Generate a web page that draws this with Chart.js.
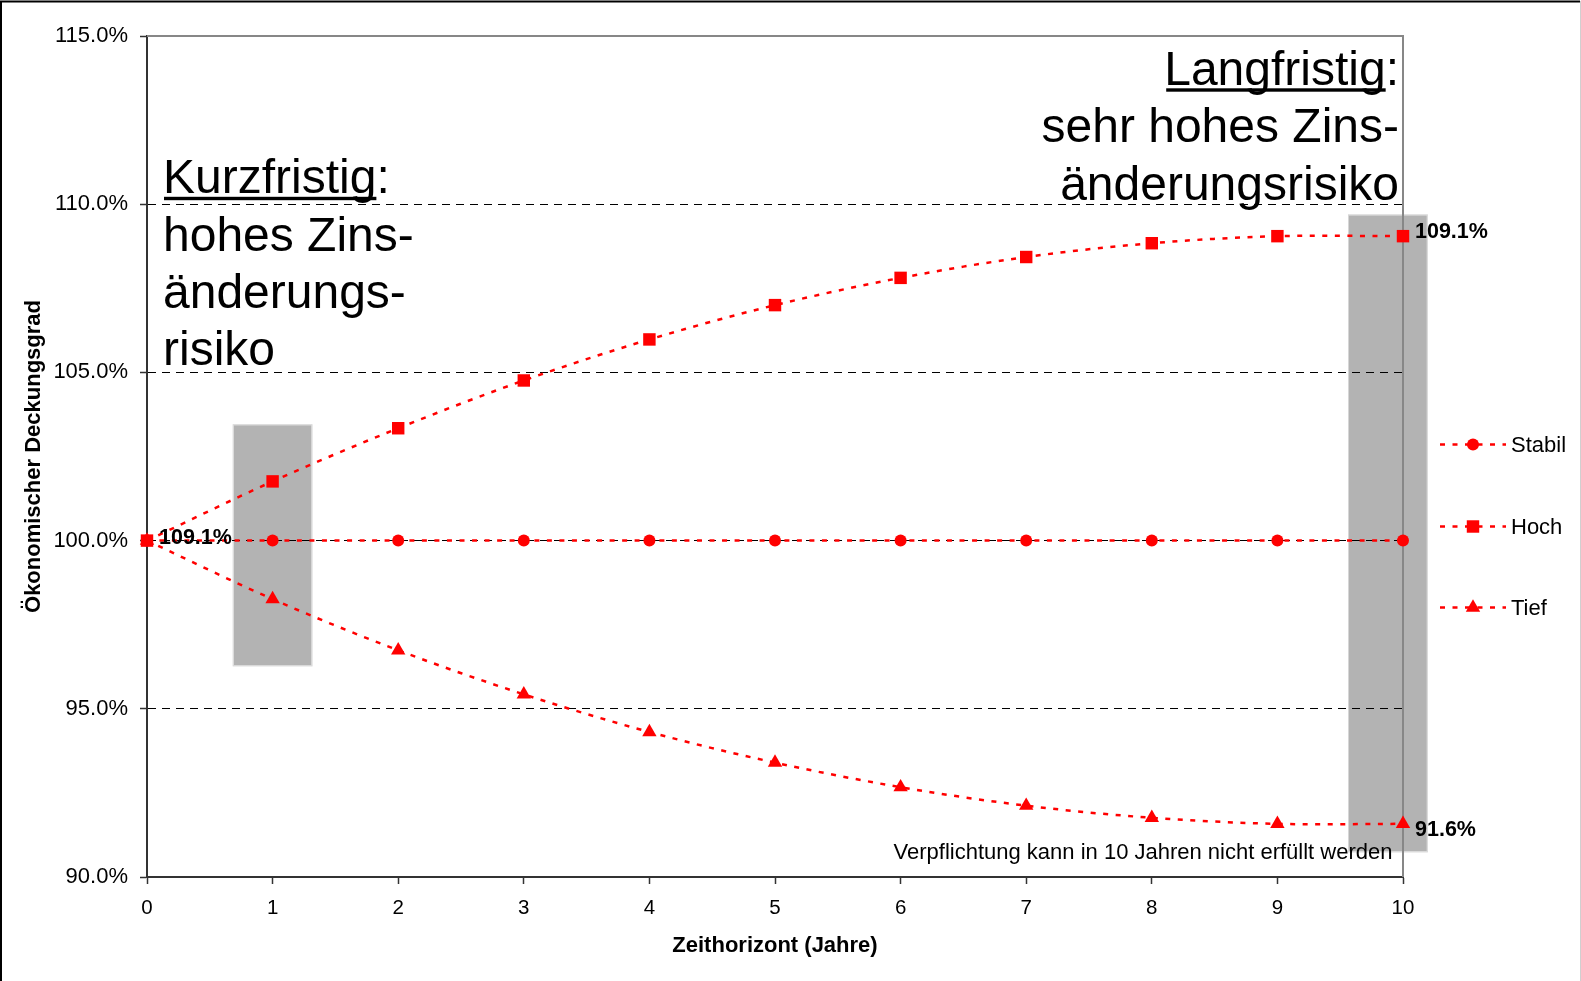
<!DOCTYPE html>
<html><head><meta charset="utf-8">
<script src="https://cdn.jsdelivr.net/npm/chart.js@4.4.1/dist/chart.umd.min.js"></script>
<style>html,body{margin:0;padding:0;background:#fff;overflow:hidden}#wrap{position:relative;width:1581px;height:981px}canvas{display:block}</style>
</head><body><div id="wrap"><canvas id="c" width="1581" height="981"></canvas></div>
<script>
// ---- data ----
const categories = ['0','1','2','3','4','5','6','7','8','9','10'];
const seriesNames = ['Stabil','Hoch','Tief'];
const stabil = [100,100,100,100,100,100,100,100,100,100,100];
const hoch   = [100,101.76,103.34,104.76,105.98,107.00,107.81,108.43,108.84,109.05,109.05];
const tief   = [100,98.26,96.74,95.43,94.31,93.40,92.67,92.12,91.76,91.58,91.58];
const yTicks = [90,95,100,105,110,115];
const valueLabels = ['109.1%','109.1%','91.6%'];
const valueLabelX = [0,10,10];
const valueLabelY = [100,109.05,91.58];
const boxX0 = [0.69, 9.57];
const boxX1 = [1.31, 10.19];
const boxYTop = [103.43, 109.67];
const boxYBottom = [96.29, 90.76];
const noteShort = ['Kurzfristig:', 'hohes Zins-', 'änderungs-', 'risiko'];
const noteLong = ['Langfristig:', 'sehr hohes Zins-', 'änderungsrisiko'];
const noteBottom = 'Verpflichtung kann in 10 Jahren nicht erfüllt werden';
const xTitle = 'Zeithorizont (Jahre)';
const yTitle = 'Ökonomischer Deckungsgrad';

// ---- styling ----
const FONT = "'Liberation Sans', Arial, Helvetica, sans-serif";
Chart.defaults.font.family = FONT;
Chart.defaults.color = '#000';
const RED = '#ff0000';
const LINE_DASH = [5, 7.5];
const pointStyles = ['circle','rect','triangle'];
const pointRadii = [6, 8.8, 8.3];
const seriesData = [stabil, hoch, tief];
const orders = [3, 1, 2];

const datasets = seriesNames.map((name, i) => ({
  label: name,
  data: seriesData[i],
  borderColor: RED, backgroundColor: RED,
  pointBackgroundColor: RED, pointBorderColor: RED, pointBorderWidth: 0,
  pointStyle: pointStyles[i], pointRadius: pointRadii[i], pointHoverRadius: pointRadii[i],
  borderWidth: 2.5, borderDash: LINE_DASH, tension: 0.33, fill: false, clip: false,
  order: orders[i]
}));

const decor = {
  id: 'decor',
  beforeDraw(chart) {
    const {ctx, scales: {x, y}} = chart;
    ctx.save();
    for (let i = 0; i < boxX0.length; i++) {
      const l = x.getPixelForValue(boxX0[i]), r = x.getPixelForValue(boxX1[i]);
      const t = y.getPixelForValue(boxYTop[i]), b = y.getPixelForValue(boxYBottom[i]);
      ctx.fillStyle = '#b3b3b3';
      ctx.fillRect(l, t, r - l, b - t);
      ctx.strokeStyle = '#d6d6d6'; ctx.lineWidth = 1;
      ctx.strokeRect(l - 0.5, t - 0.5, r - l + 1, b - t + 1);
    }
    ctx.restore();
  },
  beforeDatasetsDraw(chart) {
    const {ctx, chartArea: a} = chart;
    ctx.save();
    ctx.strokeStyle = '#878787'; ctx.lineWidth = 2;
    ctx.beginPath();
    ctx.moveTo(a.left, a.top); ctx.lineTo(a.right, a.top); ctx.lineTo(a.right, a.bottom);
    ctx.stroke();
    ctx.restore();
  },
  afterDraw(chart) {
    const {ctx, scales: {x, y}} = chart;
    ctx.save();
    // value labels
    const labelDy = [-3, -4.5, 6];
    ctx.fillStyle = '#000';
    ctx.font = 'bold 21.5px ' + FONT;
    ctx.textAlign = 'left'; ctx.textBaseline = 'middle';
    valueLabels.forEach((t, i) => {
      ctx.fillText(t, x.getPixelForValue(valueLabelX[i]) + 12, y.getPixelForValue(valueLabelY[i]) + labelDy[i]);
    });
    // big annotations
    ctx.font = '48px ' + FONT;
    ctx.textBaseline = 'alphabetic';
    ctx.textAlign = 'left';
    const kx = 163;
    noteShort.forEach((t, i) => ctx.fillText(t, kx, 193.3 + i * 57.3));
    const kw = ctx.measureText(noteShort[0].replace(':', '')).width;
    ctx.fillRect(kx + 1, 196.8, kw - 1, 3.4);
    ctx.textAlign = 'right';
    const lx = 1399;
    noteLong.forEach((t, i) => ctx.fillText(t, lx, 85 + i * 57.3));
    const lwFull = ctx.measureText(noteLong[0]).width;
    const lwColon = ctx.measureText(':').width;
    ctx.fillRect(lx - lwFull + 2, 88.3, lwFull - lwColon - 2, 3.4);
    // bottom note
    ctx.font = '22px ' + FONT;
    ctx.fillText(noteBottom, 1392.5, 859.3);
    // legend
    const legendY = [444.5, 526.5, 607.5];
    seriesNames.forEach((name, i) => {
      const ly = legendY[i];
      ctx.strokeStyle = RED; ctx.lineWidth = 2.5; ctx.setLineDash(LINE_DASH);
      ctx.beginPath(); ctx.moveTo(1440, ly); ctx.lineTo(1506, ly); ctx.stroke();
      ctx.setLineDash([]);
      ctx.fillStyle = RED;
      Chart.helpers.drawPoint(ctx, {pointStyle: pointStyles[i], radius: pointRadii[i], rotation: 0, borderWidth: 0}, 1473, ly);
      ctx.fillStyle = '#000';
      ctx.font = '22px ' + FONT; ctx.textAlign = 'left'; ctx.textBaseline = 'middle';
      ctx.fillText(name, 1511, ly + 1);
    });
    // outer frame
    ctx.strokeStyle = '#000'; ctx.lineWidth = 2;
    ctx.beginPath(); ctx.moveTo(1, 981); ctx.lineTo(1, 1.5); ctx.lineTo(1580, 1.5); ctx.stroke();
    ctx.strokeStyle = '#d0d0d0'; ctx.lineWidth = 1;
    ctx.beginPath(); ctx.moveTo(1580.5, 1); ctx.lineTo(1580.5, 981); ctx.stroke();
    ctx.restore();
  }
};

new Chart(document.getElementById('c'), {
  type: 'line',
  data: { labels: categories, datasets },
  options: {
    responsive: false, animation: false, devicePixelRatio: 1,
    layout: { padding: { left: 0, top: 36, right: 178, bottom: 0 } },
    plugins: { legend: { display: false }, tooltip: { enabled: false } },
    events: [],
    scales: {
      x: {
        type: 'category', offset: false,
        grid: { drawOnChartArea: false, color: '#333', tickColor: '#333', tickLength: 7, tickWidth: 1.5 },
        border: { display: true, color: '#333', width: 2 },
        ticks: { font: { size: 20.5 }, color: '#000', padding: 12, maxRotation: 0, autoSkip: false },
        title: { display: true, text: xTitle, color: '#000', font: { size: 22, weight: 'bold' }, padding: { top: 0, bottom: 22.3 } },
        afterFit: s => { s.height = 104; }
      },
      y: {
        min: 90, max: 115,
        afterBuildTicks: s => { s.ticks = yTicks.map(v => ({ value: v })); },
        grid: {
          color: c => (c.tick && [95,100,105,110].includes(c.tick.value)) ? '#000' : 'rgba(0,0,0,0)',
          lineWidth: 1, tickColor: '#333', tickLength: 7, tickWidth: 1.5, tickBorderDash: []
        },
        border: { display: true, color: '#333', width: 2, dash: c => (c.tick ? [8, 6] : []) },
        ticks: { font: { size: 22 }, color: '#000', padding: 12, callback: v => Number(v).toFixed(1) + '%' },
        title: { display: true, text: yTitle, color: '#000', font: { size: 22, weight: 'bold' }, padding: { top: 21.2, bottom: 0 } },
        afterFit: s => { s.width = 147; }
      }
    }
  },
  plugins: [decor]
});
</script>
</body></html>
